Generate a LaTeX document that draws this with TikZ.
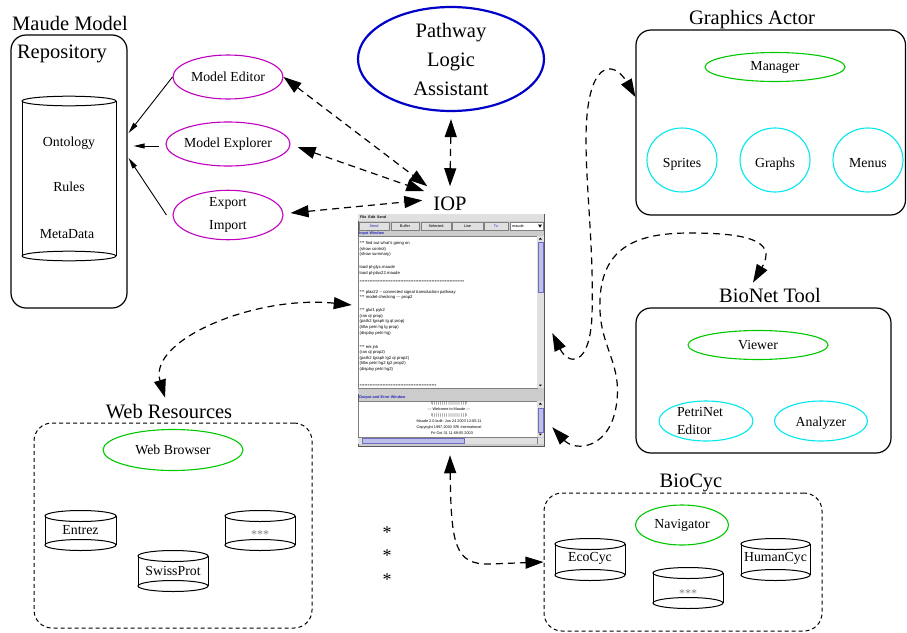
\documentclass[tikz,border=0pt]{standalone}
\usepackage{fontspec}
\setmainfont{Liberation Serif}
\newfontfamily\uifont{Liberation Sans}
\usetikzlibrary{shapes.geometric,arrows.meta}
\definecolor{magc}{RGB}{190,0,190}
\definecolor{grn}{RGB}{0,200,0}
\definecolor{cyn}{RGB}{0,232,238}
\definecolor{plablue}{RGB}{0,0,200}
\definecolor{wingray}{RGB}{204,204,204}
\definecolor{btngray}{RGB}{224,224,224}
\definecolor{uiblue}{RGB}{40,40,190}
\definecolor{thumbc}{RGB}{190,190,235}
\definecolor{thumbedge}{RGB}{110,110,190}
\newcommand\mycyl[5]{%
  \draw[cylline] (#1,#2) ellipse [x radius=#4pt, y radius=#5pt];
  \draw[cylline] (#1,#3) ellipse [x radius=#4pt, y radius=#5pt];
  \draw[cylline] (#1-#4,#2) -- (#1-#4,#3) (#1+#4,#2) -- (#1+#4,#3);
}
\tikzset{
  big/.style={font=\fontsize{20.5}{24}\selectfont, inner sep=0pt},
  lab/.style={font=\fontsize{13.8}{16}\selectfont, inner sep=0pt},
  oval/.style={ellipse, draw, line width=1.1pt, inner sep=0pt, font=\fontsize{13.8}{16}\selectfont},
  magoval/.style={oval, draw=magc},
  grnoval/.style={oval, draw=grn},
  cynoval/.style={oval, draw=cyn},
  solidbox/.style={draw, line width=1.2pt, rounded corners=15pt, inner sep=0pt},
  dashbox/.style={draw, line width=1pt, rounded corners=18pt, dash pattern=on 4pt off 3pt, inner sep=0pt},
  dar/.style={line width=1.2pt, dash pattern=on 7pt off 5pt, {Triangle[length=18pt,width=12pt]}-{Triangle[length=18pt,width=12pt]}},
  sar/.style={line width=0.9pt, -{Triangle[length=11pt,width=5pt]}},
  cylline/.style={line width=1pt},
  ui/.style={font=\uifont\fontsize{4.2}{5}\selectfont, inner sep=0pt, anchor=west},
  uic/.style={font=\uifont\fontsize{3.8}{4.5}\selectfont, inner sep=0pt},
  uib/.style={font=\uifont\bfseries\fontsize{3.8}{4.5}\selectfont, text=uiblue, inner sep=0pt, anchor=west},
  btn/.style={draw=gray, fill=btngray, line width=0.4pt, inner sep=0pt, font=\uifont\fontsize{3.8}{4.5}\selectfont},
}
\begin{document}
\begin{tikzpicture}[x=1pt,y=-1pt]
\useasboundingbox (0,0) rectangle (907,632);

% ---------------- Maude Model Repository
\node[big, anchor=base] (reptitle) at (70,30.5) {Maude Model};
\node[solidbox, minimum width=116pt, minimum height=273pt] (repo) at (69,171.5) {};
\node[big, anchor=base] (repname) at (62,58.5) {Repository};
\mycyl{69}{101}{256}{47}{4.8}
\node[lab] (onto) at (69,143) {Ontology};
\node[lab] (rules) at (69,187) {Rules};
\node[lab] (meta) at (67,234) {MetaData};

% ---------------- model tools
\node[magoval, minimum width=110pt, minimum height=44pt] (me) at (228,77) {Model Editor};
\node[magoval, minimum width=110pt, minimum height=44pt] (mx) at (228,144) {Model Explorer};
\node[magoval, minimum width=110pt, minimum height=46pt, align=center, font=\fontsize{13.8}{23}\selectfont] (ei) at (228,215) {Export\\Import};

\draw[sar] (me.west) -- ([shift={(1,-38.5)}]repo.east);
\draw[sar] ([shift={(-6,2)}]mx.west) -- ([shift={(6,-25.5)}]repo.east);
\draw[sar] ([shift={(-6,0)}]ei.west) -- ([shift={(1,-13.5)}]repo.east);

% ---------------- PLA and IOP
\node[ellipse, draw=plablue, line width=2.2pt, minimum width=186pt, minimum height=104pt, inner sep=0pt, align=center, font=\fontsize{20.5}{29}\selectfont] (pla) at (451,59) {Pathway\\Logic\\Assistant};
\node[big, anchor=base] (iop) at (450,210) {IOP};

\draw[dar] ([shift={(0,7)}]pla.south) -- ([shift={(0,-10)}]iop.north);
\draw[dar] (me.east) -- ([shift={(-6,-10)}]iop.north west);
\draw[dar] ([shift={(7,3)}]mx.east) -- ([shift={(-9,-5)}]iop.north west);
\draw[dar] ([shift={(7,-2)}]ei.east) -- ([shift={(-11,-3)}]iop.west);

% ---------------- screenshot of IOP window
\node[draw=gray!70!black, fill=wingray, line width=0.5pt, minimum width=186pt, minimum height=232pt, inner sep=0pt] (shot) at (451,330) {};
\fill[btngray] (358.3,214.3) rectangle (543.7,221);
\node[ui, font=\uifont\bfseries\fontsize{3.6}{4}\selectfont] (menu) at (360,217.6) {File\ \ Edit\ \ Send};
\foreach \a/\b/\t/\c in {359/389/Send/uiblue, 391/419/Buffer/black, 421/451/Selected/black, 452/483/Line/black, 484/508/Tx/uiblue}
  \node[btn, text=\c, minimum width={(\b-\a)*1pt}, minimum height=8pt] (b\t) at ({(\a+\b)/2},226) {\t};
\node[btn, fill=white, minimum width=33pt, minimum height=8pt] (bm) at (526.5,226) {};
\node[uic, anchor=west] (bmt) at (512,226) {maude};
\fill (538,224.6) -- (542,224.6) -- (540,227.6) -- cycle;

\node[uib] (inlab) at (359,233.6) {Input Window};
\draw[gray, fill=white, line width=0.4pt] (358.5,236) rectangle (537,388);
\fill[btngray] (537,236) rectangle (543.7,388);
\draw[thumbedge, fill=thumbc, line width=0.3pt] (538,242) rectangle (543,292);
\fill (538.8,239.5) -- (541.9,239.5) -- (540.35,237.6) -- cycle;
\fill (538.8,384.5) -- (541.9,384.5) -- (540.35,386.4) -- cycle;
\foreach \y/\t in {243/{*** find out what's going on},
  249/{(show control)}, 254/{(show summary)},
  267/{load pl-glyc.maude}, 273/{load pl-plax22.maude},
  282/{****************************************************************},
  292/{*** plax22 -{}- connected signal transduction pathway},
  297/{*** model-checking -{}-{}- prop2},
  310/{*** glut1 pyk2}, 316/{(ran qt prop)}, 321/{(path2 lgraph lg qt prop)},
  327/{(tillw petri hg lg prop)}, 333/{(display petri hg)},
  347/{*** erk jnk}, 352/{(ran qt prop2)}, 358/{(path2 lgraph lg2 qt prop2)},
  363/{(tillw petri hg2 lg2 prop2)}, 369/{(display petri hg2)},
  386/{***********************************************}}
  \node[ui] (in\y) at (359.5,\y) {\t};
\fill[wingray] (358.3,388.5) rectangle (543.7,394);

\node[uib] (outlab) at (359,398) {Output and Error Window};
\draw[gray, fill=white, line width=0.4pt] (358.5,401) rectangle (537,437);
\fill[btngray] (537,401) rectangle (543.7,437);
\draw[thumbedge, fill=thumbc, line width=0.3pt] (538,408) rectangle (543,432);
\fill (538.8,404.5) -- (541.9,404.5) -- (540.35,402.6) -- cycle;
\fill (538.8,433.5) -- (541.9,433.5) -- (540.35,435.4) -- cycle;
\node[uic] (o1) at (449,403.5) {\textbackslash| | | | | | | | | | | | | | | | |/};
\node[uic] (o2) at (449,409.5) {-{}-{}- Welcome to Maude -{}-{}-};
\node[uic] (o3) at (449,415.5) {/| | | | | | | | | | | | | | | | |\textbackslash};
\node[uic] (o4) at (449,421.5) {Maude 2.0 built: Jun 24 2003 12:05:11};
\node[uic] (o5) at (449,427.5) {Copyright 1997-2003 SRI International};
\node[uic] (o6) at (452,433.5) {Fri Oct 31 11:59:05 2003};
\fill[btngray] (358.3,437.5) rectangle (543.7,443.7);
\draw[thumbedge, fill=thumbc, line width=0.3pt] (362,438.4) rectangle (464,442.8);
\draw[gray, line width=0.3pt] (537,437.5) -- (537,443.7);

% ---------------- Graphics Actor
\node[big, anchor=base] (gat) at (752,24) {Graphics Actor};
\node[solidbox, minimum width=269.5pt, minimum height=185pt] (ga) at (770.75,122.5) {};
\node[grnoval, minimum width=140pt, minimum height=29pt] (mgr) at (775,67) {Manager};
\node[cynoval, minimum width=70pt, minimum height=64pt, text height=18pt, text depth=3pt] (spr) at (682,160) {Sprites};
\node[cynoval, minimum width=70pt, minimum height=64pt, text height=18pt, text depth=3pt] (grf) at (775,160) {Graphs};
\node[cynoval, minimum width=70pt, minimum height=64pt, text height=18pt, text depth=3pt] (mnu) at (868,160) {Menus};

% ---------------- BioNet Tool
\node[big, anchor=base] (bnt) at (770,302) {BioNet Tool};
\node[solidbox, minimum width=255pt, minimum height=145pt] (bn) at (763.5,380.5) {};
\node[grnoval, minimum width=140pt, minimum height=29pt] (vwr) at (758,345) {Viewer};
\node[cynoval, minimum width=94pt, minimum height=40pt, align=left, font=\fontsize{13.8}{18}\selectfont, text width=58pt] (pne) at (706,421) {PetriNet\\Editor};
\node[cynoval, minimum width=93pt, minimum height=40pt, text height=12pt, text depth=2pt] (anl) at (821,421) {Analyzer};

% ---------------- Web Resources
\node[big, anchor=base] (wrt) at (169,418) {Web Resources};
\node[dashbox, minimum width=278pt, minimum height=205pt] (wr) at (173,525.5) {};
\node[grnoval, minimum width=140pt, minimum height=41pt] (wb) at (173,450) {Web Browser};
\mycyl{80.5}{516}{545}{35.5}{5.5}
\mycyl{260}{516}{545}{35}{5.5}
\mycyl{173}{556}{586}{35}{5.5}
\node[lab] (entrez) at (80.5,530) {Entrez};
\node[lab, text=gray, font=\fontsize{12}{14}\selectfont] (wst) at (260,535) {***};
\node[lab] (swiss) at (173,571) {SwissProt};

\node[inner sep=0pt, font=\fontsize{18}{20}\selectfont] (as1) at (387,533) {*};
\node[inner sep=0pt, font=\fontsize{18}{20}\selectfont] (as2) at (387,556) {*};
\node[inner sep=0pt, font=\fontsize{18}{20}\selectfont] (as3) at (387,580) {*};

% ---------------- BioCyc
\node[big, anchor=base] (bct) at (691,487) {BioCyc};
\node[dashbox, minimum width=278pt, minimum height=138pt] (bc) at (683,562) {};
\node[grnoval, minimum width=93pt, minimum height=40pt] (nav) at (682,525) {Navigator};
\mycyl{590}{544}{575}{35}{5.5}
\mycyl{775.5}{544}{575}{34.5}{5.5}
\mycyl{688}{573}{603}{35}{5.5}
\node[lab] (eco) at (590,558) {EcoCyc};
\node[lab] (hum) at (775.5,558) {HumanCyc};
\node[lab, text=gray, font=\fontsize{12}{14}\selectfont] (bst) at (688,594) {***};

% ---------------- curved dashed connectors
\draw[dar] ([shift={(8,3)}]shot.east) .. controls (568,365) and (590,368) .. (592,315)
  .. controls (594,250) and (586,190) .. (586,140)
  .. controls (586,58) and (614,60) .. ([shift={(0,-25.5)}]ga.west);
\draw[dar] ([shift={(8,-19)}]shot.south east) .. controls (575,452) and (612,450) .. (617,400)
  .. controls (621,360) and (598,345) .. (600,300)
  .. controls (602,245) and (640,233) .. (690,233)
  .. controls (745,233) and (778,240) .. ([shift={(-17,-5)}]bnt.north);
\draw[dar] ([shift={(-6,-25)}]shot.west) .. controls (255,295) and (148,340) .. ([shift={(-4,-6)}]wrt.north);
\draw[dar] ([shift={(-1,9)}]shot.south) .. controls (451,545) and (455,565) .. (490,564) -- (bc.west);
\end{tikzpicture}
\end{document}
